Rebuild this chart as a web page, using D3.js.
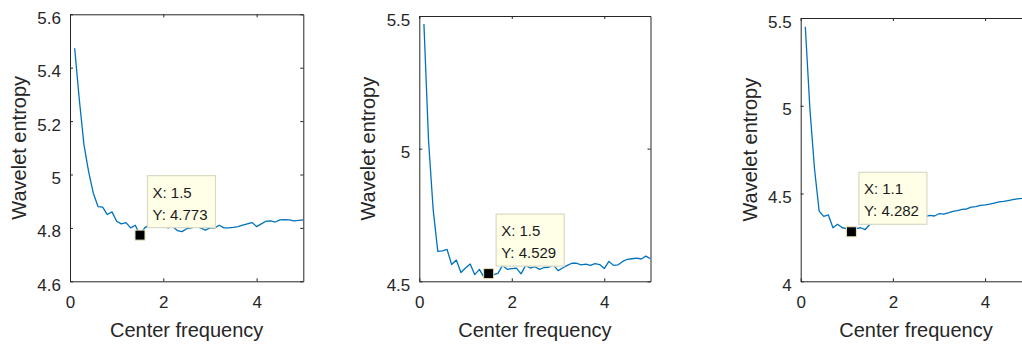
<!DOCTYPE html>
<html>
<head>
<meta charset="utf-8">
<script src="https://cdn.jsdelivr.net/npm/d3@7"></script>
<style>
  html, body { margin: 0; padding: 0; background: #ffffff; }
  svg { display: block; font-family: "Liberation Sans", Arial, Helvetica, sans-serif; }
</style>
</head>
<body>
<svg id="chart" width="1022" height="344"></svg>
<script>
// Center frequencies shared by all three panels
const freq = [0.1, 0.2, 0.3, 0.4, 0.5, 0.6, 0.7, 0.8, 0.9, 1.0,
              1.1, 1.2, 1.3, 1.4, 1.5, 1.6, 1.7, 1.8, 1.9, 2.0,
              2.1, 2.2, 2.3, 2.4, 2.5, 2.6, 2.7, 2.8, 2.9, 3.0,
              3.1, 3.2, 3.3, 3.4, 3.5, 3.6, 3.7, 3.8, 3.9, 4.0,
              4.1, 4.2, 4.3, 4.4, 4.5, 4.6, 4.7, 4.8, 4.9, 5.0];

// Wavelet entropy for each panel
const entropyA = [5.473, 5.28, 5.11, 5.01, 4.93, 4.88, 4.878, 4.85, 4.86, 4.825,
                  4.815, 4.82, 4.80, 4.81, 4.773, 4.80, 4.812, 4.81, 4.805, 4.81,
                  4.80, 4.805, 4.79, 4.786, 4.797, 4.80, 4.805, 4.80, 4.792, 4.80,
                  4.80, 4.81, 4.80, 4.80, 4.802, 4.805, 4.81, 4.815, 4.82, 4.805,
                  4.815, 4.825, 4.826, 4.822, 4.83, 4.831, 4.83, 4.826, 4.828, 4.83];

const entropyB = [5.47, 5.03, 4.77, 4.613, 4.615, 4.62, 4.563, 4.58, 4.533, 4.55,
                  4.565, 4.525, 4.545, 4.515, 4.529, 4.525, 4.53, 4.56, 4.545, 4.548,
                  4.55, 4.528, 4.56, 4.55, 4.555, 4.545, 4.552, 4.553, 4.562, 4.54,
                  4.55, 4.56, 4.568, 4.568, 4.562, 4.565, 4.56, 4.567, 4.563, 4.548,
                  4.575, 4.56, 4.562, 4.575, 4.583, 4.585, 4.587, 4.584, 4.595, 4.585];

const entropyC = [5.45, 4.98, 4.64, 4.40, 4.37, 4.378, 4.305, 4.325, 4.305, 4.30,
                  4.282, 4.30, 4.305, 4.295, 4.325, 4.33, 4.335, 4.34, 4.345, 4.348,
                  4.35, 4.355, 4.356, 4.36, 4.362, 4.366, 4.368, 4.375, 4.372, 4.385,
                  4.383, 4.39, 4.398, 4.403, 4.41, 4.412, 4.422, 4.425, 4.432, 4.435,
                  4.44, 4.446, 4.452, 4.455, 4.46, 4.465, 4.47, 4.472, 4.478, 4.48];

// Axis ticks
const xTicks = [0, 2, 4];
const yTicksA = [4.6, 4.8, 5, 5.2, 5.4, 5.6];
const yTicksB = [4.5, 5, 5.5];
const yTicksC = [4, 4.5, 5, 5.5];

// Data tip positions (frequency, entropy)
const tipX = [1.5, 1.5, 1.1];
const tipY = [4.773, 4.529, 4.282];

const xLabel = "Center frequency";
const yLabel = "Wavelet entropy";

const axisColor = "#262626";
const lineColor = "#0072BD";

const panels = [
  { values: entropyA, yTicks: yTicksA, yDomain: [4.6, 5.6], box: { left: 70, right: 303.3, top: 14.3, bottom: 281.3 }, tip: 0 },
  { values: entropyB, yTicks: yTicksB, yDomain: [4.5, 5.5], box: { left: 419.3, right: 650.5, top: 16, bottom: 281.3 }, tip: 1 },
  { values: entropyC, yTicks: yTicksC, yDomain: [4, 5.5], box: { left: 800.7, right: 1031.2, top: 18, bottom: 281.3 }, tip: 2 }
];

const svg = d3.select("#chart");

panels.forEach((p, i) => {
  const b = p.box;
  const x = d3.scaleLinear().domain([0, 5]).range([b.left, b.right]);
  const y = d3.scaleLinear().domain(p.yDomain).range([b.bottom, b.top]);

  const g = svg.append("g").attr("class", "panel");

  // clip for the curve
  const clipId = "clip" + i;
  svg.append("defs").append("clipPath").attr("id", clipId)
    .append("rect")
    .attr("x", b.left).attr("y", b.top)
    .attr("width", b.right - b.left).attr("height", b.bottom - b.top);

  // data line
  const line = d3.line().x((d, k) => x(freq[k])).y(d => y(d));
  g.append("path")
    .datum(p.values)
    .attr("clip-path", `url(#${clipId})`)
    .attr("fill", "none")
    .attr("stroke", lineColor)
    .attr("stroke-width", 1.3)
    .attr("stroke-linejoin", "round")
    .attr("d", line);

  // axes with inward ticks on all four sides
  const fmt = d3.format("~g");
  const styleAxis = sel => {
    sel.selectAll(".domain").attr("stroke", axisColor).attr("stroke-width", 1);
    sel.selectAll(".tick line").attr("stroke", axisColor).attr("stroke-width", 1);
    sel.selectAll("text").attr("fill", axisColor).attr("font-size", 17).attr("font-family", null);
  };

  g.append("g").attr("transform", `translate(0,${b.bottom})`)
    .call(d3.axisBottom(x).tickValues(xTicks).tickFormat(fmt).tickSizeInner(-3).tickSizeOuter(0).tickPadding(15))
    .call(styleAxis);

  g.append("g").attr("transform", `translate(0,${b.top})`)
    .call(d3.axisTop(x).tickValues(xTicks).tickFormat("").tickSizeInner(-3).tickSizeOuter(0))
    .call(styleAxis);

  g.append("g").attr("transform", `translate(${b.left},0)`)
    .call(d3.axisLeft(y).tickValues(p.yTicks).tickFormat(fmt).tickSizeInner(-3).tickSizeOuter(0).tickPadding(9))
    .call(styleAxis)
    .call(a => a.selectAll("text").attr("dy", "0.53em"));

  g.append("g").attr("transform", `translate(${b.right},0)`)
    .call(d3.axisRight(y).tickValues(p.yTicks).tickFormat("").tickSizeInner(-3).tickSizeOuter(0))
    .call(styleAxis);

  // axis titles
  g.append("text")
    .attr("x", (b.left + b.right) / 2 - (i === 2 ? 0 : 0))
    .attr("y", 336.5)
    .attr("text-anchor", "middle")
    .attr("font-size", 20)
    .attr("fill", axisColor)
    .text(xLabel);

  g.append("text")
    .attr("transform", `translate(${b.left - 44},${(b.top + b.bottom) / 2}) rotate(-90)`)
    .attr("text-anchor", "middle")
    .attr("font-size", 20)
    .attr("fill", axisColor)
    .text(yLabel);

  // data tip
  const tx = x(tipX[p.tip]);
  const ty = y(tipY[p.tip]);
  const boxW = 68, boxH = 52;
  const bx = tx + 7.5, by = ty - 7.5 - boxH;

  g.append("rect")
    .attr("x", bx).attr("y", by)
    .attr("width", boxW).attr("height", boxH)
    .attr("fill", "#ffffe8")
    .attr("stroke", "#d9d9c4")
    .attr("stroke-width", 1.2);

  g.append("text")
    .attr("x", bx + 5).attr("y", by + 22)
    .attr("font-size", 15).attr("fill", "#1a1a1a")
    .text("X: " + tipX[p.tip]);

  g.append("text")
    .attr("x", bx + 5).attr("y", by + 44)
    .attr("font-size", 15).attr("fill", "#1a1a1a")
    .text("Y: " + tipY[p.tip]);

  g.append("rect")
    .attr("x", tx - 5).attr("y", ty - 5)
    .attr("width", 10).attr("height", 10)
    .attr("fill", "#000000")
    .attr("stroke", "#ebe6b4")
    .attr("stroke-width", 1);
});
</script>
</body>
</html>
